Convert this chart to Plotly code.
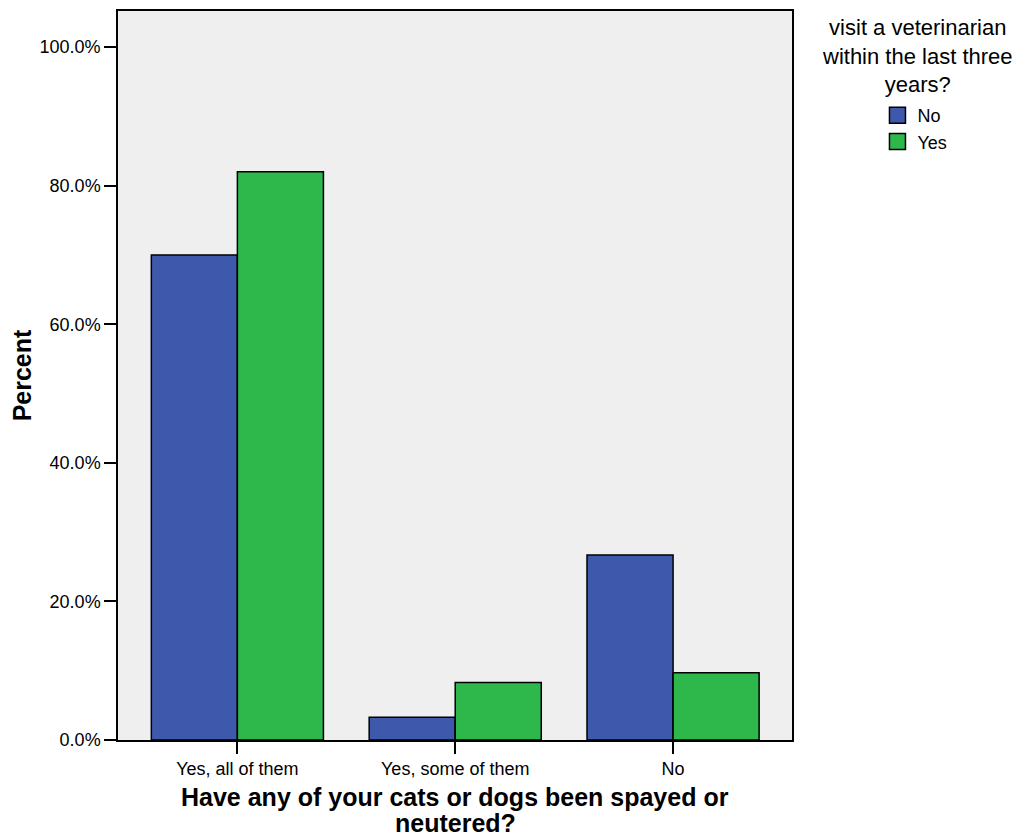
import plotly.graph_objects as go

categories = ["Yes, all of them", "Yes, some of them", "No"]
vet_no = [70.0, 3.3, 26.7]
vet_yes = [82.0, 8.3, 9.7]
series_names = ["No", "Yes"]
y_ticks = [0, 20, 40, 60, 80, 100]
y_tick_labels = ["0.0%", "20.0%", "40.0%", "60.0%", "80.0%", "100.0%"]
legend_title_lines = ["visit a veterinarian", "within the last three", "years?"]
x_title_lines = ["Have any of your cats or dogs been spayed or", "neutered?"]

FONT = "Liberation Sans, Arial, sans-serif"
BLUE = "#3e58ac"
GREEN = "#2eb84b"
colors = [BLUE, GREEN]

fig = go.Figure()
for name, vals, col in zip(series_names, [vet_no, vet_yes], colors):
    fig.add_trace(go.Bar(x=categories, y=vals, name=name, showlegend=False,
                         marker=dict(color=col, line=dict(color="black", width=1.5))))
# legend entries (square swatches like the original)
for name, col in zip(series_names, colors):
    fig.add_trace(go.Scatter(x=[None], y=[None], name=name, mode="markers",
                             marker=dict(symbol="square", size=18, color=col,
                                         line=dict(color="black", width=1.5))))

annotations = [dict(
    text="<br>".join(legend_title_lines), xref="paper", yref="paper", x=1.1868, y=1.0,
    xanchor="center", yanchor="middle", yshift=-45, align="center",
    showarrow=False, font=dict(family=FONT, size=22, color="black"))]
for i, line in enumerate(x_title_lines):
    annotations.append(dict(
        text="<b>" + line + "</b>", xref="paper", yref="paper", x=0.5, y=0.0,
        xanchor="center", yanchor="middle", yshift=-57 - 26 * i,
        showarrow=False, font=dict(family=FONT, size=25, color="black")))

fig.update_layout(
    width=1022, height=838,
    margin=dict(l=117.5, r=230, t=11, b=98, autoexpand=False),
    paper_bgcolor="white",
    plot_bgcolor="#efefef",
    barmode="group",
    bargap=0.21,
    bargroupgap=0,
    font=dict(family=FONT, size=18, color="black"),
    showlegend=True,
    legend=dict(
        x=1.1268, y=0.882, xanchor="left", yanchor="top",
        font=dict(family=FONT, size=18, color="black"),
        itemwidth=30, tracegroupgap=0, bgcolor="rgba(0,0,0,0)",
        itemsizing="trace",
    ),
    annotations=annotations,
)

fig.update_xaxes(
    type="category", range=[-0.548, 2.546],
    showline=True, linecolor="black", linewidth=1.5, mirror=True,
    ticks="outside", ticklen=12, tickwidth=2, tickcolor="black",
    showgrid=False, zeroline=False,
    tickfont=dict(family=FONT, size=18),
)
fig.update_yaxes(
    range=[0, 105.2],
    tickvals=y_ticks, ticktext=y_tick_labels,
    showline=True, linecolor="black", linewidth=1.5, mirror=True,
    ticks="outside", ticklen=12, tickwidth=2, tickcolor="black",
    showgrid=False, zeroline=False,
    tickfont=dict(family=FONT, size=18),
    title=dict(text="<b>Percent</b>", font=dict(family=FONT, size=25), standoff=1),
)

fig.write_html("out.html",
               config={"displayModeBar": False},
               post_script="document.body.style.margin='0';document.body.style.overflow='hidden';")
